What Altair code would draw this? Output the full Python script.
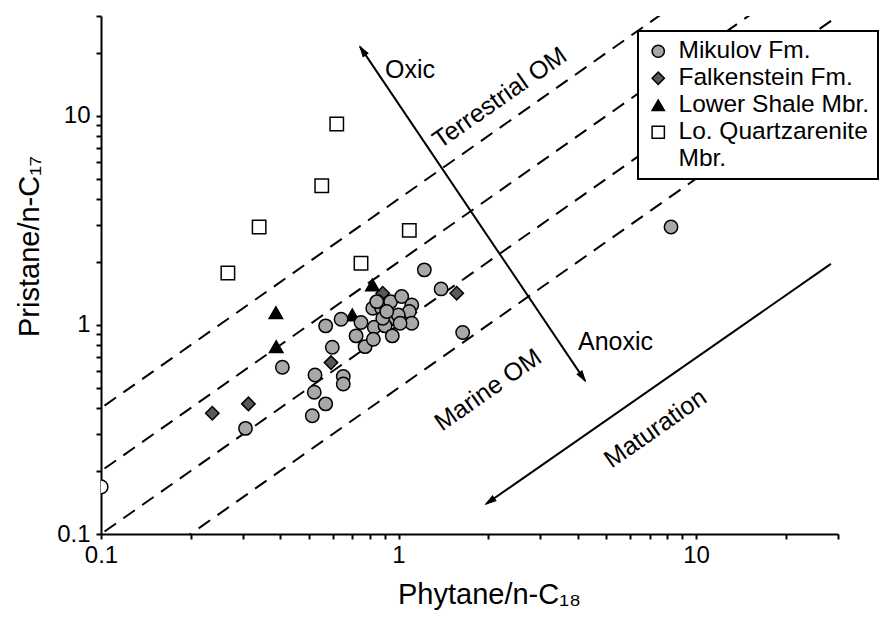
import altair as alt
import pandas as pd

# ---------------- data ----------------
groups = ["Mikulov Fm.", "Falkenstein Fm.", "Lower Shale Mbr.", "Lo. Quartzarenite Mbr."]

mik_x = [1.221, 1.390, 1.643, 0.569, 0.641, 0.599, 0.407, 0.524, 0.652, 0.652, 0.521, 0.569,
         0.513, 0.306, 0.748, 0.720, 0.772, 0.829, 0.823, 0.819, 0.878, 0.941, 1.025, 1.108,
         1.087, 0.936, 0.901, 0.953, 1.108, 0.998, 1.012, 0.885, 0.913, 0.845, 8.24]
mik_y = [1.833, 1.486, 0.919, 0.989, 1.065, 0.782, 0.627, 0.576, 0.566, 0.522, 0.476, 0.419,
         0.368, 0.320, 1.026, 0.886, 0.787, 0.975, 0.854, 1.202, 1.202, 1.292, 1.366, 1.246,
         1.158, 1.068, 0.989, 0.886, 1.019, 1.116, 1.019, 1.076, 1.158, 1.292, 2.94]

fal_x = [0.2366, 0.313, 0.593, 0.885, 0.867, 1.569]
fal_y = [0.378, 0.419, 0.660, 1.418, 1.29, 1.418]

low_x = [0.387, 0.388, 0.817, 0.699]
low_y = [1.145, 0.787, 1.554, 1.116]

qtz_x = [0.620, 0.552, 0.340, 0.267, 1.087, 0.748]
qtz_y = [9.13, 4.63, 2.94, 1.77, 2.83, 1.97]

# open circle sitting on the left axis
edge_x = [0.1]
edge_y = [0.168]

# Pristane/Phytane ratio guide lines
ratios = [4, 2, 1, 0.5]
line_x = [0.01, 100]

# arrows (data coordinates): start, end
oxic_arrow = [(0.742, 21.4), (4.24, 0.54)]
mat_arrow = [(28.4, 1.958), (1.968, 0.1391)]

ann_text = ["Oxic", "Anoxic", "Terrestrial OM", "Marine OM", "Maturation"]
ann_x = [0.901, 4.01, 2.19, 2.0, 7.3]
ann_y = [16.6, 0.829, 12.2, 0.489, 0.32]
ann_angle = [0, 0, 325, 325, 325]
ann_align = ["left", "left", "center", "center", "center"]

x_ticks = [0.1, 0.2, 0.3, 0.4, 0.5, 0.6, 0.7, 0.8, 0.9, 1, 2, 3, 4, 5, 6, 7, 8, 9, 10, 20, 30]
y_ticks = x_ticks

# ---------------- tables ----------------
pts = pd.concat([
    pd.DataFrame({"x": fal_x, "y": fal_y, "g": groups[1]}),
    pd.DataFrame({"x": low_x, "y": low_y, "g": groups[2]}),
    pd.DataFrame({"x": qtz_x, "y": qtz_y, "g": groups[3]}),
    pd.DataFrame({"x": mik_x, "y": mik_y, "g": groups[0]}),
], ignore_index=True)
pts["order"] = range(len(pts))

lines = pd.DataFrame([{"x": xv, "y": r * xv, "r": str(r)} for r in ratios for xv in line_x])

arrows = pd.DataFrame([
    {"x": oxic_arrow[0][0], "y": oxic_arrow[0][1], "x2": oxic_arrow[1][0], "y2": oxic_arrow[1][1]},
    {"x": mat_arrow[0][0], "y": mat_arrow[0][1], "x2": mat_arrow[1][0], "y2": mat_arrow[1][1]},
])
heads = pd.DataFrame([
    {"x": oxic_arrow[0][0], "y": oxic_arrow[0][1], "a": 326},
    {"x": oxic_arrow[1][0], "y": oxic_arrow[1][1], "a": 146},
    {"x": mat_arrow[1][0], "y": mat_arrow[1][1], "a": 235},
])
ann = pd.DataFrame({"t": ann_text, "x": ann_x, "y": ann_y, "a": ann_angle, "al": ann_align})
edge = pd.DataFrame({"x": edge_x, "y": edge_y})

FONT = "Liberation Sans"
xscale = alt.Scale(type="log", domain=[0.1, 30], nice=False)
yscale = alt.Scale(type="log", domain=[0.1, 30], nice=False)

lab_expr = "datum.value == 0.1 ? '0.1' : datum.value == 1 ? '1' : datum.value == 10 ? '10' : ''"

X = alt.X("x:Q", scale=xscale, axis=alt.Axis(
    values=x_ticks, labelExpr=lab_expr, title="Phytane/n-C₁₈", grid=False,
    labelOverlap=False, labelFlush=False, labelFontSize=24, labelPadding=4, tickSize=5,
    titleFontSize=29, titleFontWeight="normal", titleX=388, titleY=60,
    titleBaseline="middle", titleAlign="center"))
Y = alt.Y("y:Q", scale=yscale, axis=alt.Axis(
    values=y_ticks, labelExpr=lab_expr, title="Pristane/n-C₁₇", grid=False,
    labelOverlap=False, labelFlush=False, labelFontSize=24, labelPadding=6, tickSize=5,
    titleFontSize=29, titleFontWeight="normal", titleX=-72, titleY=230,
    titleBaseline="middle", titleAlign="center"))

guide = alt.Chart(lines).mark_line(
    color="black", strokeWidth=2, strokeDash=[14, 9], clip=True
).encode(x=X, y=Y, detail="r:N")

rules = alt.Chart(arrows).mark_rule(color="black", strokeWidth=2).encode(
    x=alt.X("x:Q", scale=xscale), y=alt.Y("y:Q", scale=yscale),
    x2="x2:Q", y2="y2:Q")

head_shape = "M0,0L-0.6,2L0.6,2Z"
arrowheads = alt.Chart(heads).mark_point(
    shape=head_shape, filled=True, fill="black", stroke="black", strokeWidth=1, size=100, opacity=1
).encode(x=alt.X("x:Q", scale=xscale), y=alt.Y("y:Q", scale=yscale),
         angle=alt.Angle("a:Q", scale=None))

edge_pt = alt.Chart(edge).mark_point(
    shape="circle", filled=True, fill="white", stroke="black", strokeWidth=1.5,
    size=190, opacity=1, clip=True
).encode(x=alt.X("x:Q", scale=xscale), y=alt.Y("y:Q", scale=yscale))

legend = alt.Legend(
    orient="none", legendX=537, legendY=15, title=None,
    labelFontSize=24.5, labelFont=FONT, labelColor="black",
    symbolSize=150, symbolStrokeWidth=1.5, symbolStrokeColor="black",
    fillColor="white", strokeColor="black", padding=8, rowPadding=2, labelOffset=8,
    labelExpr="datum.label == 'Lo. Quartzarenite Mbr.' ? ['Lo. Quartzarenite', 'Mbr.'] : datum.label",
    labelLimit=400,
)

points = alt.Chart(pts).mark_point(
    filled=True, strokeWidth=1.5, opacity=1, size=180
).encode(
    x=alt.X("x:Q", scale=xscale),
    y=alt.Y("y:Q", scale=yscale),
    shape=alt.Shape("g:N", scale=alt.Scale(domain=groups,
                    range=["circle", "diamond", "triangle-up", "square"]), legend=legend),
    fill=alt.Fill("g:N", scale=alt.Scale(domain=groups,
                  range=["#a8a8a8", "#595959", "#000000", "#ffffff"]), legend=legend),
    stroke=alt.Stroke("g:N", scale=alt.Scale(domain=groups,
                      range=["#000000", "#000000", "#000000", "#000000"]), legend=legend),
    order="order:Q",
)

texts_left = alt.Chart(ann[ann["al"] == "left"]).mark_text(
    font=FONT, fontSize=25, color="black", baseline="middle", align="left"
).encode(
    x=alt.X("x:Q", scale=xscale), y=alt.Y("y:Q", scale=yscale),
    text="t:N", angle=alt.Angle("a:Q", scale=None),
)
texts_center = alt.Chart(ann[ann["al"] == "center"]).mark_text(
    font=FONT, fontSize=25, color="black", baseline="middle", align="center"
).encode(
    x=alt.X("x:Q", scale=xscale), y=alt.Y("y:Q", scale=yscale),
    text="t:N", angle=alt.Angle("a:Q", scale=None),
)

chart = alt.layer(guide, rules, arrowheads, edge_pt, points, texts_left, texts_center).properties(
    width=737, height=518,
    padding={"left": 93, "top": 8, "right": 42, "bottom": 77},
    autosize=alt.AutoSizeParams(type="none"),
    background="white",
).configure_view(stroke=None).configure_axis(
    domainColor="black", domainWidth=2, tickColor="black", tickWidth=2,
    labelColor="black", titleColor="black", labelFont=FONT, titleFont=FONT,
).configure_legend(strokeWidth=2)

chart.save("out.html", embed_options={"renderer": "svg", "actions": False})
